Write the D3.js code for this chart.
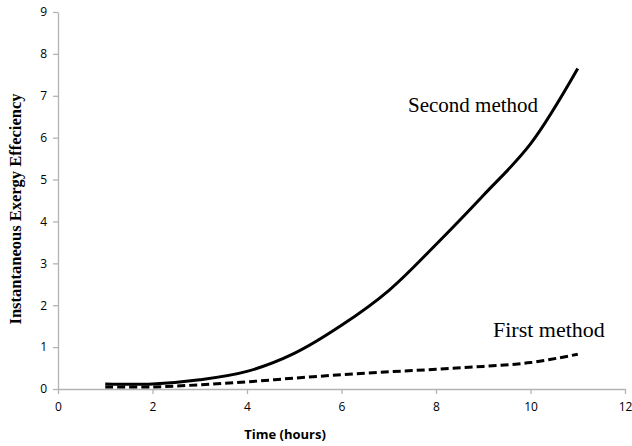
<!DOCTYPE html>
<html>
<head>
<meta charset="utf-8">
<script src="https://cdn.jsdelivr.net/npm/d3@7"></script>
<style>
  body { margin: 0; background: #fff; }
  svg { display: block; }
</style>
</head>
<body>
<svg id="chart" width="632" height="446"></svg>
<script>
const hours = [1, 2, 3, 4, 5, 6, 7, 8, 9, 10, 11];
const secondMethod = [0.12, 0.12, 0.22, 0.42, 0.85, 1.52, 2.35, 3.45, 4.62, 5.85, 7.65];
const firstMethod = [0.05, 0.05, 0.10, 0.17, 0.26, 0.34, 0.41, 0.47, 0.54, 0.63, 0.83];
const xTicks = [0, 2, 4, 6, 8, 10, 12];
const yTicks = [0, 1, 2, 3, 4, 5, 6, 7, 8, 9];

const svg = d3.select("#chart");
const x = d3.scaleLinear().domain([0, 12]).range([58, 625]);
const y = d3.scaleLinear().domain([0, 9]).range([389, 12]);

const axisColor = "#b3b3b3";
const tickFont = "'Open Sans', 'Liberation Sans', sans-serif";

const yAxis = svg.append("g").attr("transform", `translate(${x(0)},0)`)
  .call(d3.axisLeft(y).tickValues(yTicks).tickSize(5).tickSizeOuter(0).tickPadding(6));
const xAxis = svg.append("g").attr("transform", `translate(0,${y(0)})`)
  .call(d3.axisBottom(x).tickValues(xTicks).tickSize(5).tickSizeOuter(0).tickPadding(8));

[yAxis, xAxis].forEach(g => {
  g.select(".domain").attr("stroke", axisColor).attr("stroke-width", 1.3);
  g.selectAll(".tick line").attr("stroke", axisColor).attr("stroke-width", 1.3);
  g.selectAll(".tick text").attr("fill", "#000").style("font-family", tickFont).style("font-size", "12px");
});

const line = d3.line()
  .x((d, i) => x(hours[i]))
  .y(d => y(d))
  .curve(d3.curveCatmullRom.alpha(0.5));

svg.append("path").datum(firstMethod)
  .attr("d", line).attr("fill", "none").attr("stroke", "#000")
  .attr("stroke-width", 3).attr("stroke-dasharray", "8,4");

svg.append("path").datum(secondMethod)
  .attr("d", line).attr("fill", "none").attr("stroke", "#000")
  .attr("stroke-width", 3);

const serif = "'Liberation Serif', 'Times New Roman', serif";
svg.append("text").attr("x", 408).attr("y", 112)
  .style("font-family", serif).style("font-size", "21px").text("Second method");
svg.append("text").attr("x", 493).attr("y", 337)
  .style("font-family", serif).style("font-size", "22px").text("First method");

svg.append("text").attr("x", 285).attr("y", 439).attr("text-anchor", "middle")
  .style("font-family", tickFont).style("font-size", "13px").style("font-weight", "bold")
  .text("Time (hours)");
svg.append("text").attr("transform", "translate(21,209) rotate(-90)").attr("text-anchor", "middle")
  .style("font-family", serif).style("font-size", "16.5px").style("font-weight", "bold")
  .text("Instantaneous Exergy Effeciency");
</script>
</body>
</html>
